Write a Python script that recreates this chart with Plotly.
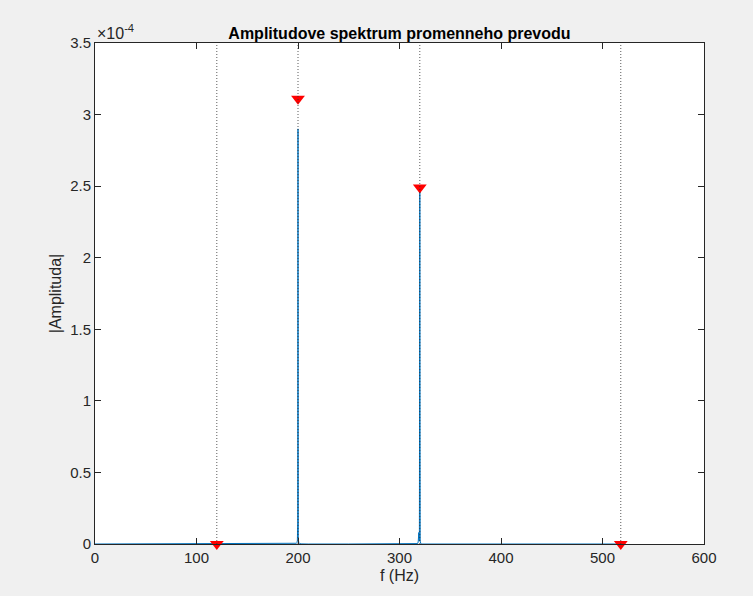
import plotly.graph_objects as go

# Spectrum samples (Hz, amplitude)
freq = [0, 50, 100, 150, 190, 196, 197.5, 198.5, 199, 199.4, 199.7, 200, 200.3, 200.8, 201.5, 203, 210,
        250, 300, 314, 316.5, 317.5, 318, 318.5, 319, 319.6, 320, 320.4, 321, 322, 330, 400, 450, 500, 520]
amp = [0.0, 0.0, 0.0, 0.0, 0.0, 0.0, 0.02e-5, 0.05e-5, 0.1e-5, 0.25e-5, 1.5e-5, 2.9e-4, 0.3e-5, 0.1e-5, 0.04e-5, 0.01e-5, 0.0,
       0.0, 0.0, 0.0, 0.0, 0.01e-5, 0.03e-5, 0.2e-5, 0.8e-5, 0.2e-5, 2.47e-4, 0.2e-5, 0.03e-5, 0.0, 0.0, 0.0, 0.0, 0.0, 0.0]

# Marked peaks
peak_f = [120, 200, 320, 518]
peak_a = [0.0, 3.11e-4, 2.49e-4, 0.0]

x_ticks = [0, 100, 200, 300, 400, 500, 600]
y_ticks = [0, 0.5e-4, 1e-4, 1.5e-4, 2e-4, 2.5e-4, 3e-4, 3.5e-4]
y_tick_text = ["0", "0.5", "1", "1.5", "2", "2.5", "3", "3.5"]

FONT = "Arial, Liberation Sans, Helvetica, sans-serif"

fig = go.Figure()

fig.add_trace(go.Scatter(x=freq, y=amp, mode="lines",
                         line=dict(color="#0072BD", width=1), showlegend=False))

for f in peak_f:
    fig.add_shape(type="line", x0=f, x1=f, y0=0, y1=1, yref="paper", xref="x",
                  line=dict(color="#333333", width=1, dash="1px,2px"), opacity=0.8, layer="above")

fig.add_trace(go.Scatter(x=peak_f, y=peak_a, mode="markers",
                         marker=dict(symbol="triangle-down", color="#FF0000", size=12,
                                     line=dict(width=0)),
                         cliponaxis=False, showlegend=False))

axis_common = dict(showgrid=False, zeroline=False, showline=True, linecolor="#262626",
                   linewidth=1, mirror="ticks", ticks="inside", ticklen=6, tickcolor="#262626",
                   tickfont=dict(family=FONT, size=15, color="#262626"))

fig.update_xaxes(range=[0, 600], tickvals=x_ticks,
                 title=dict(text="f (Hz)", font=dict(family=FONT, size=16, color="#262626"),
                            standoff=4),
                 **axis_common)
fig.update_yaxes(range=[0, 3.5e-4], tickvals=y_ticks, ticktext=y_tick_text,
                 title=dict(text="|Amplituda|", font=dict(family=FONT, size=16, color="#262626"),
                            standoff=4),
                 **axis_common)

fig.add_annotation(x=0, y=1, xref="paper", yref="paper", xanchor="left", yanchor="bottom",
                   text="×10<sup>-4</sup>", showarrow=False, yshift=-1,
                   font=dict(family=FONT, size=16, color="#262626"))

fig.update_layout(
    width=753, height=596,
    margin=dict(l=95, r=49, t=43, b=52),
    paper_bgcolor="#F0F0F0", plot_bgcolor="#FFFFFF",
    title=dict(text="<b>Amplitudove spektrum promenneho prevodu</b>", x=0.5305, xanchor="center",
               y=1 - 33 / 596, yanchor="middle",
               font=dict(family=FONT, size=16, color="#000000")),
)

fig.write_html("out.html")
